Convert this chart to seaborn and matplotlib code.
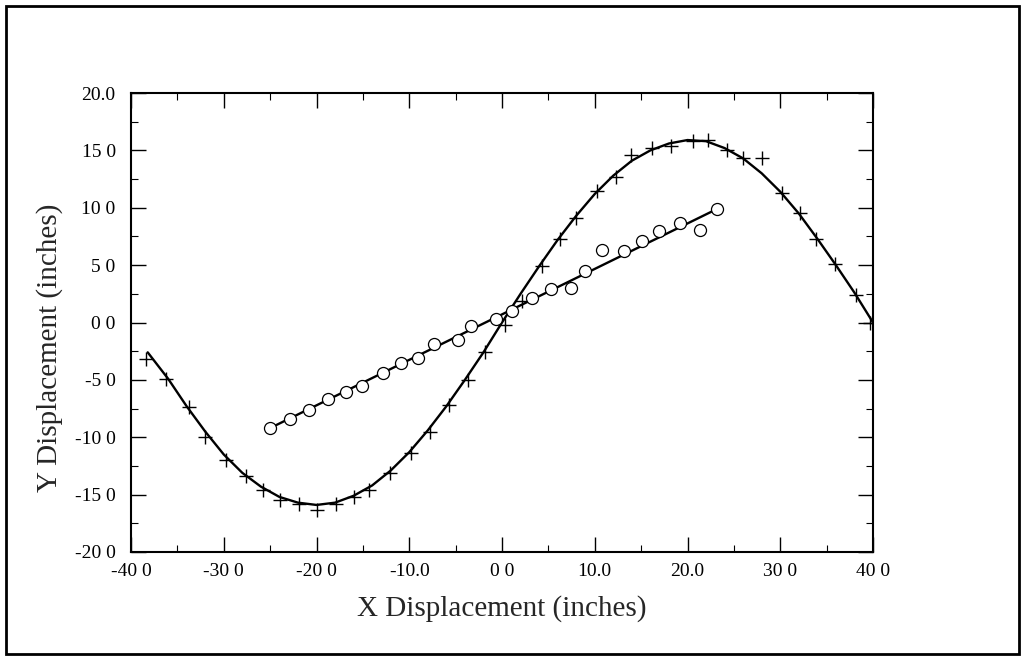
import numpy as np
import pandas as pd
import seaborn as sns
import matplotlib.pyplot as plt
from matplotlib.patches import Rectangle
from matplotlib.ticker import MultipleLocator

# -------------- DATA -------------------#

# smooth curve
curve_x = [-38.2, -36, -34, -32, -30, -28, -26, -24, -22, -20, -18, -16, -14, -12, -10,
           -8, -6, -4, -2, 0, 2, 4, 6, 8, 10, 12, 14, 16, 18, 20, 22, 24, 26, 28, 30,
           32, 34, 36, 38, 40]
curve_y = [-2.6, -4.9, -7.3, -9.5, -11.5, -13.1, -14.3, -15.2, -15.7, -15.9, -15.7, -15.1,
           -14.2, -12.9, -11.3, -9.4, -7.3, -5.0, -2.6, 0.0, 2.5, 4.9, 7.2, 9.3, 11.2,
           12.8, 14.1, 15.0, 15.6, 15.9, 15.8, 15.2, 14.3, 13.0, 11.4, 9.5, 7.3, 5.0,
           2.6, 0.0]

# "+" measurements
plus_x = [-38.4, -36.2, -33.8, -32.0, -29.8, -27.6, -25.8, -23.9, -21.9, -19.9, -17.9,
          -16.0, -14.3, -12.1, -9.8, -7.8, -5.7, -3.7, -1.8, 0.3, 2.2, 4.3, 6.2, 8.0,
          10.2, 12.3, 13.9, 16.2, 18.2, 20.6, 22.2, 24.3, 26.0, 28.0, 30.2, 32.1, 33.9,
          35.9, 38.2, 39.7]
plus_y = [-3.2, -4.9, -7.4, -10.0, -12.0, -13.4, -14.6, -15.5, -15.8, -16.3, -15.8,
          -15.2, -14.6, -13.1, -11.4, -9.5, -7.2, -5.0, -2.6, -0.2, 1.9, 4.9, 7.3, 9.1,
          11.5, 12.7, 14.6, 15.2, 15.4, 15.8, 15.9, 15.0, 14.3, 14.3, 11.3, 9.5, 7.3,
          5.1, 2.4, 0.0]

# straight fit
fit_x = [-25.0, 23.2]
fit_y = [-9.2, 9.9]

# "o" measurements
circ_x = [-25.0, -22.9, -20.8, -18.8, -16.8, -15.1, -12.8, -10.9, -9.1, -7.3, -4.7,
          -3.3, -0.7, 1.1, 3.2, 5.3, 7.4, 8.9, 10.8, 13.2, 15.1, 16.9, 19.2, 21.4, 23.2]
circ_y = [-9.2, -8.4, -7.6, -6.7, -6.1, -5.5, -4.4, -3.5, -3.1, -1.9, -1.5, -0.3, 0.3,
          1.0, 2.1, 2.9, 3.0, 4.5, 6.3, 6.2, 7.1, 8.0, 8.7, 8.1, 9.9]

x_ticks = [-40, -30, -20, -10, 0, 10, 20, 30, 40]
x_tick_labels = ['-40 0', '-30 0', '-20 0', '-10.0', '0 0', '10.0', '20.0', '30 0', '40 0']
y_ticks = [-20, -15, -10, -5, 0, 5, 10, 15, 20]
y_tick_labels = ['-20 0', '-15 0', '-10 0', '-5 0', '0 0', '5 0', '10 0', '15 0', '20.0']

# -------------- PLOT -------------------#

sns.set_theme(style='ticks')
plt.rcParams['font.family'] = ['Liberation Serif', 'DejaVu Serif']

fig = plt.figure(figsize=(10.24, 6.58), dpi=100)
ax = fig.add_axes([131 / 1024, 1 - 552 / 658, 742 / 1024, 459 / 658])

df_curve = pd.DataFrame({'x': curve_x, 'y': curve_y})
df_plus = pd.DataFrame({'x': plus_x, 'y': plus_y})
df_fit = pd.DataFrame({'x': fit_x, 'y': fit_y})
df_circ = pd.DataFrame({'x': circ_x, 'y': circ_y})

sns.lineplot(data=df_curve, x='x', y='y', sort=False, color='black', linewidth=1.7, ax=ax, zorder=2)
sns.lineplot(data=df_fit, x='x', y='y', sort=False, color='black', linewidth=1.7, ax=ax, zorder=2)
sns.scatterplot(data=df_plus, x='x', y='y', marker='+', s=90, color='black', linewidth=1.0, ax=ax, zorder=3)
sns.scatterplot(data=df_circ, x='x', y='y', marker='o', s=75, facecolor='white', edgecolor='black',
                linewidth=0.9, ax=ax, zorder=4)

ax.set_xlim(-40, 40)
ax.set_ylim(-20, 20)
ax.set_xticks(x_ticks)
ax.set_xticklabels(x_tick_labels)
ax.set_yticks(y_ticks)
ax.set_yticklabels(y_tick_labels)
ax.xaxis.set_minor_locator(MultipleLocator(5))
ax.yaxis.set_minor_locator(MultipleLocator(2.5))
ax.tick_params(which='both', direction='in', top=True, right=True, colors='black', labelsize=14)
ax.tick_params(which='major', length=11, width=1.0)
ax.tick_params(which='minor', length=5, width=0.8)
ax.tick_params(axis='y', pad=11)
ax.tick_params(axis='x', pad=8)
for s in ax.spines.values():
    s.set_linewidth(1.5)
    s.set_color('black')

ax.set_xlabel('X Displacement (inches)', fontsize=21, labelpad=11)
ax.set_ylabel('Y Displacement (inches)', fontsize=21)
ax.yaxis.set_label_coords(-0.092, 0.445)

fig.patches.append(Rectangle((6 / 1024, 4 / 658), 1013 / 1024, 648 / 658, transform=fig.transFigure,
                             fill=False, edgecolor='black', linewidth=2))

plt.savefig('out.png', dpi=100)
plt.close()
